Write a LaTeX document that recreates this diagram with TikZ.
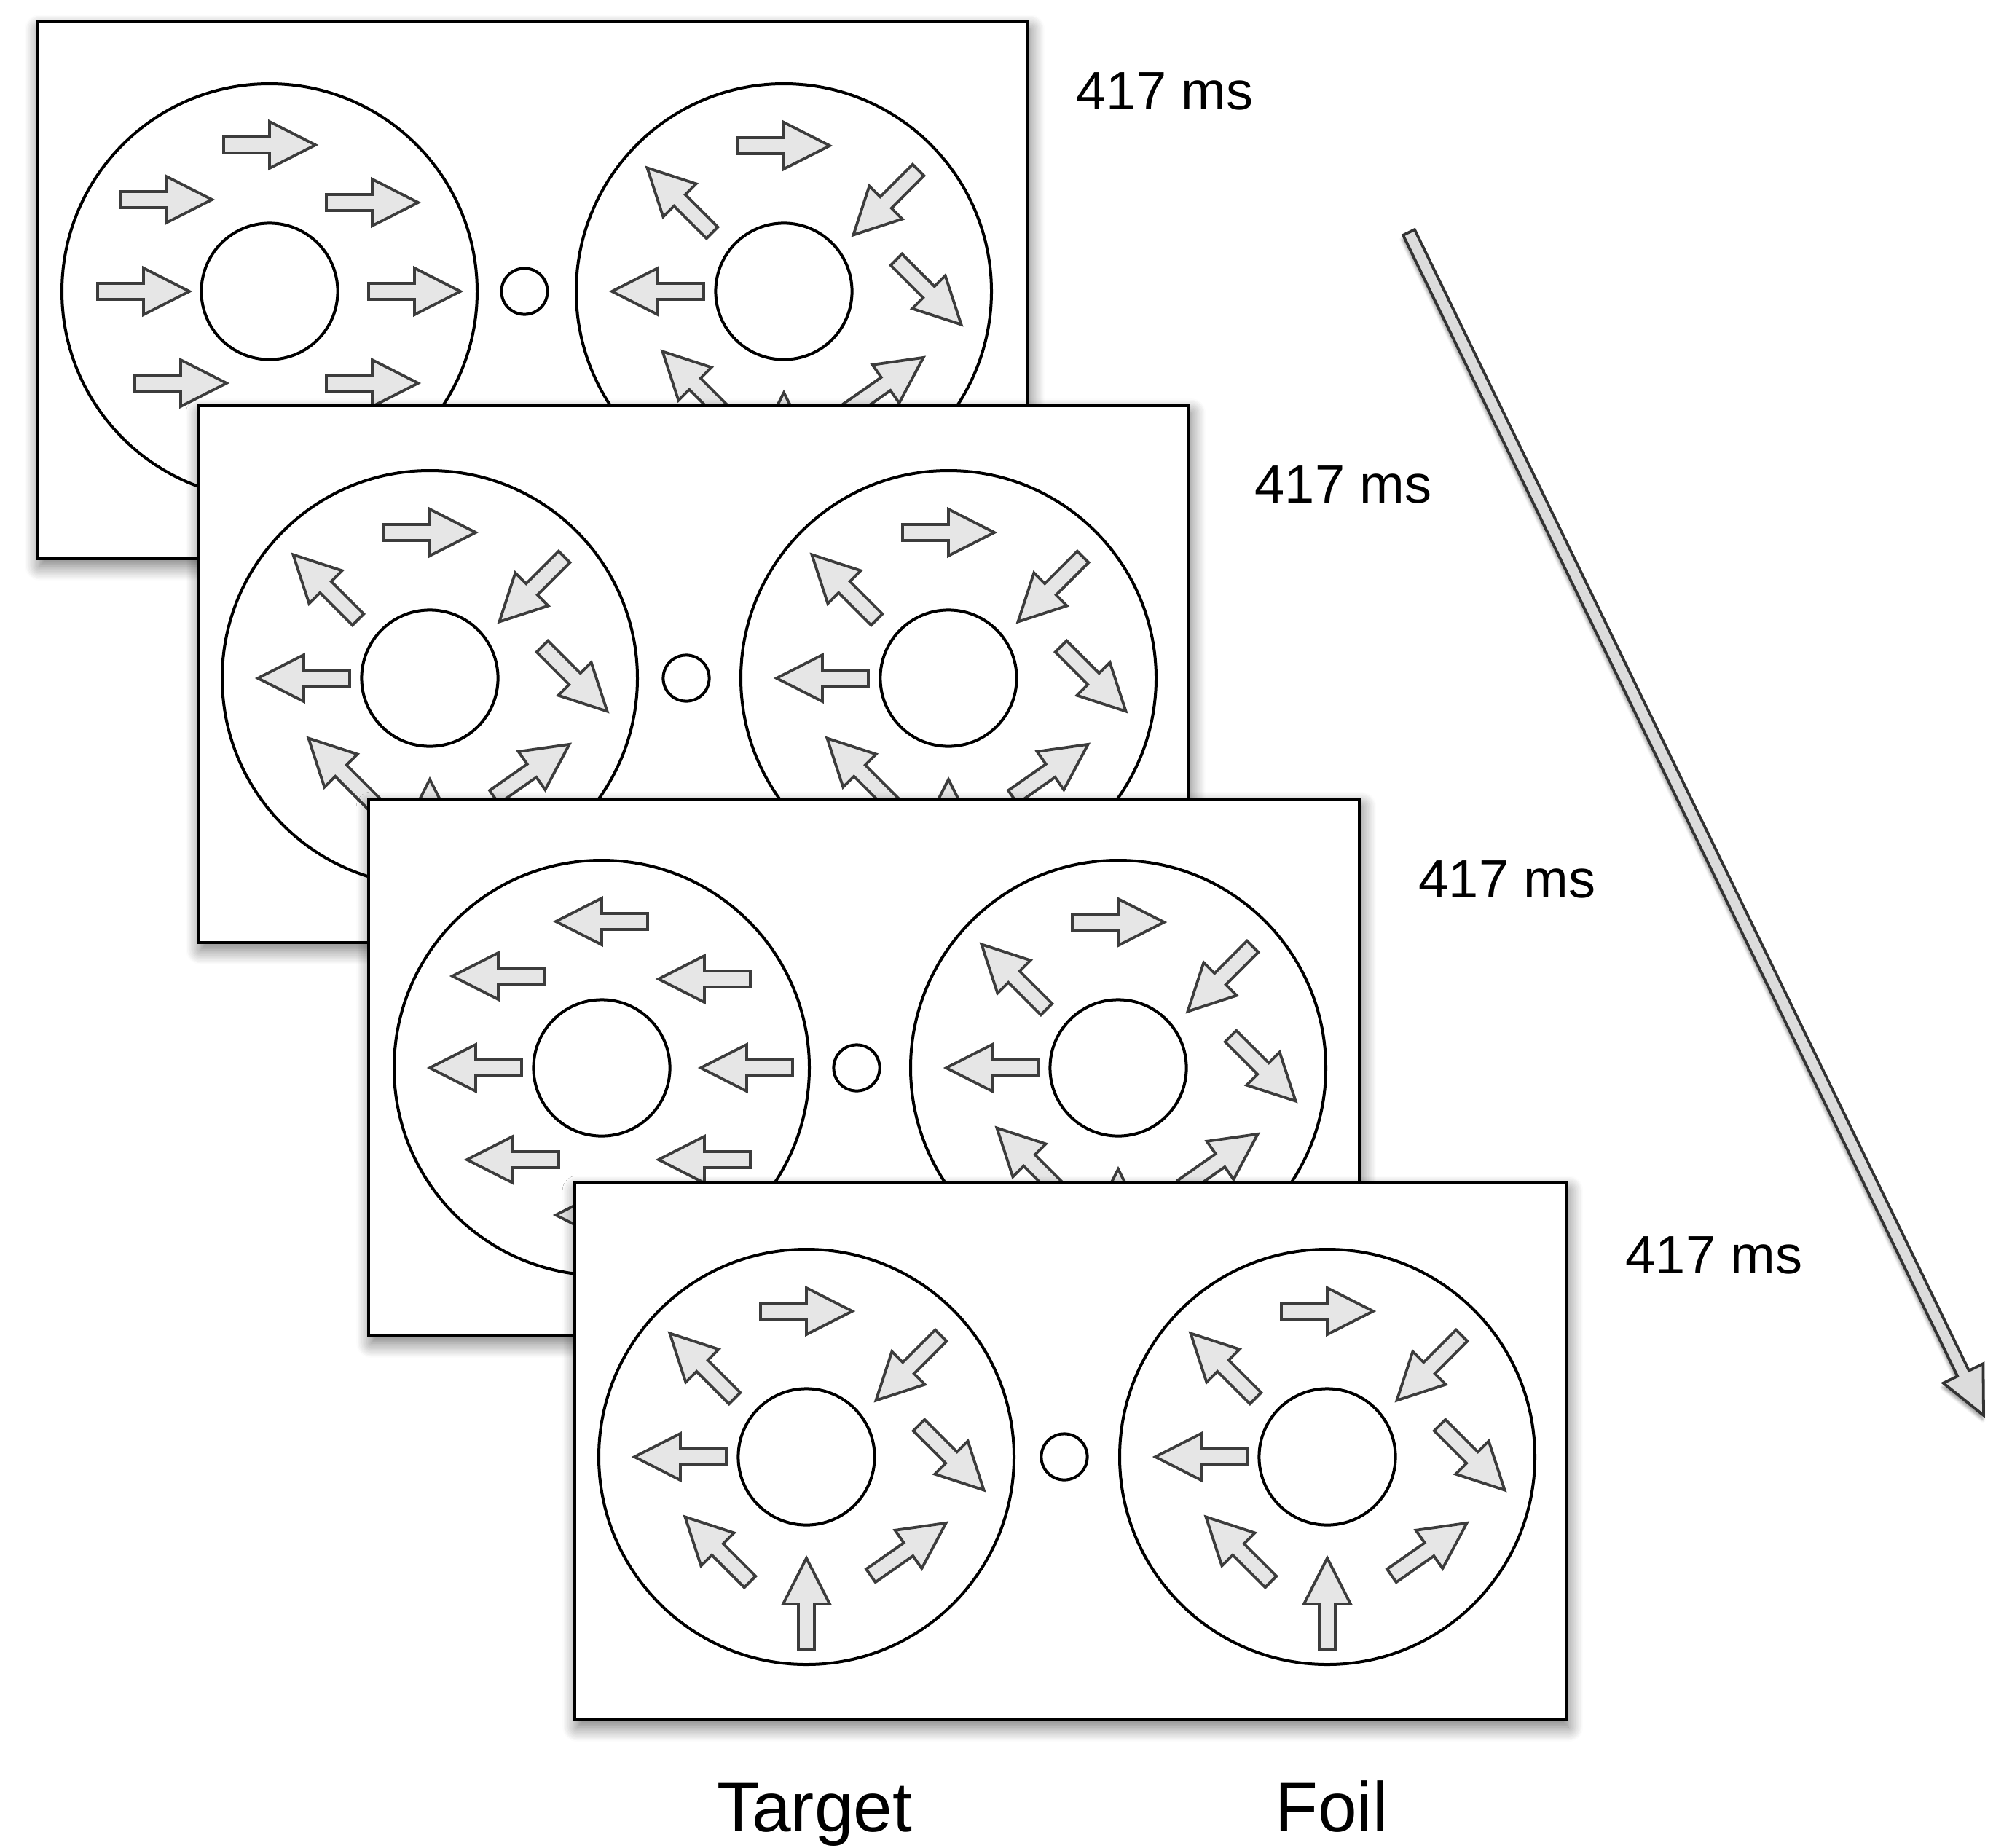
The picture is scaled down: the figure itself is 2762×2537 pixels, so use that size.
\documentclass[tikz,border=0pt]{standalone}
\usepackage{fontspec}
\setmainfont{Liberation Sans}
\usetikzlibrary{shadows.blur,calc}
\definecolor{arrowfill}{HTML}{E6E6E6}
\definecolor{arrowline}{HTML}{3C3C3C}
\definecolor{bigfill}{HTML}{DCDCDC}
\definecolor{bigline}{HTML}{333333}
\tikzset{
  panelbox/.style={draw=black, line width=1.05pt, fill=white,
    blur shadow={shadow xshift=0.8pt, shadow yshift=-2.5pt, shadow blur radius=5pt,
                 shadow blur steps=12, shadow opacity=55}},
  ring/.style={draw=black, line width=1pt},
  smallarrow/.style={draw=arrowline, fill=arrowfill, line width=0.95pt, line join=miter},
  bigarrow/.style={draw=bigline, fill=bigfill, line width=0.95pt, line join=miter,
    blur shadow={shadow xshift=-0.3pt, shadow yshift=-1.5pt, shadow blur radius=1pt,
                 shadow blur steps=5, shadow opacity=40}},
  timelabel/.style={anchor=base west, inner sep=0pt, font=\fontsize{18.5}{22}\selectfont},
  captionlabel/.style={anchor=base, inner sep=0pt, font=\fontsize{24.1}{29}\selectfont},
}
\newcommand\blockarrow[3]{\draw[smallarrow, shift={(#1,#2)}, rotate=#3]
  (-63,-11) -- (0,-11) -- (0,-32) -- (63,0) -- (0,32) -- (0,11) -- (-63,11) -- cycle;}
\newcommand\ringrandom[2]{%
  \begin{scope}[shift={(#1,#2)}]
    \draw[ring] (0,0) circle[radius=71.25pt];
    \draw[ring] (0,0) circle[radius=23.4pt];
    \blockarrow{0}{-200}{0}
    \blockarrow{-143}{-125}{135}
    \blockarrow{140}{-122}{225}
    \blockarrow{-173}{0}{180}
    \blockarrow{199}{1}{-45}
    \blockarrow{-122}{127}{135}
    \blockarrow{0}{202}{90}
    \blockarrow{140}{127}{35}
  \end{scope}}
\newcommand\ringuniform[3]{%
  \begin{scope}[shift={(#1,#2)}]
    \draw[ring] (0,0) circle[radius=71.25pt];
    \draw[ring] (0,0) circle[radius=23.4pt];
    \blockarrow{0}{-201}{#3}
    \blockarrow{-142}{-126}{#3}
    \blockarrow{141}{-122}{#3}
    \blockarrow{-173}{0}{#3}
    \blockarrow{199}{0}{#3}
    \blockarrow{-122}{126}{#3}
    \blockarrow{0}{202}{#3}
    \blockarrow{141}{126}{#3}
  \end{scope}}
\begin{document}
\begin{tikzpicture}[x=0.25pt, y=-0.25pt]
  \useasboundingbox (0,0) rectangle (2762,2537);

  % panel 1
  \draw[panelbox] (51,30) rectangle ++(1360,737);
  \ringuniform{370}{400}{0}
  \draw[ring] (720,400) circle[radius=7.9pt];
  \ringrandom{1076}{400}

  % panel 2
  \draw[panelbox] (272,557) rectangle ++(1360,737);
  \ringrandom{590}{931}
  \draw[ring] (942,931) circle[radius=7.9pt];
  \ringrandom{1302}{931}

  % panel 3
  \draw[panelbox] (506,1097) rectangle ++(1360,737);
  \ringuniform{826}{1466}{180}
  \draw[ring] (1176,1466) circle[radius=7.9pt];
  \ringrandom{1535}{1466}

  % panel 4
  \draw[panelbox] (789,1624) rectangle ++(1361,737);
  \ringrandom{1107}{2000}
  \draw[ring] (1461,2000) circle[radius=7.9pt];
  \ringrandom{1822}{2000}

  % labels
  \node[timelabel] (t1) at (1477,150) {417 ms};
  \node[timelabel] (t2) at (1722,690) {417 ms};
  \node[timelabel] (t3) at (1947,1232) {417 ms};
  \node[timelabel] (t4) at (2231,1748) {417 ms};
  \node[captionlabel] (target) at (1118,2514) {Target};
  \node[captionlabel] (foil) at (1828,2514) {Foil};

  % time arrow
  \coordinate (tstart) at (1934,319);
  \coordinate (tend) at (2723,1943);
  \coordinate (hbase) at ($(tend)!16pt!(tstart)$);
  \draw[bigarrow] ($(tstart)!2.2pt!90:(tend)$) -- ($(hbase)!2.2pt!90:(tend)$)
    -- ($(hbase)!7.6pt!90:(tend)$) -- (tend) -- ($(hbase)!7.6pt!-90:(tend)$)
    -- ($(hbase)!2.2pt!-90:(tend)$) -- ($(tstart)!2.2pt!-90:(tend)$) -- cycle;
\end{tikzpicture}
\end{document}
